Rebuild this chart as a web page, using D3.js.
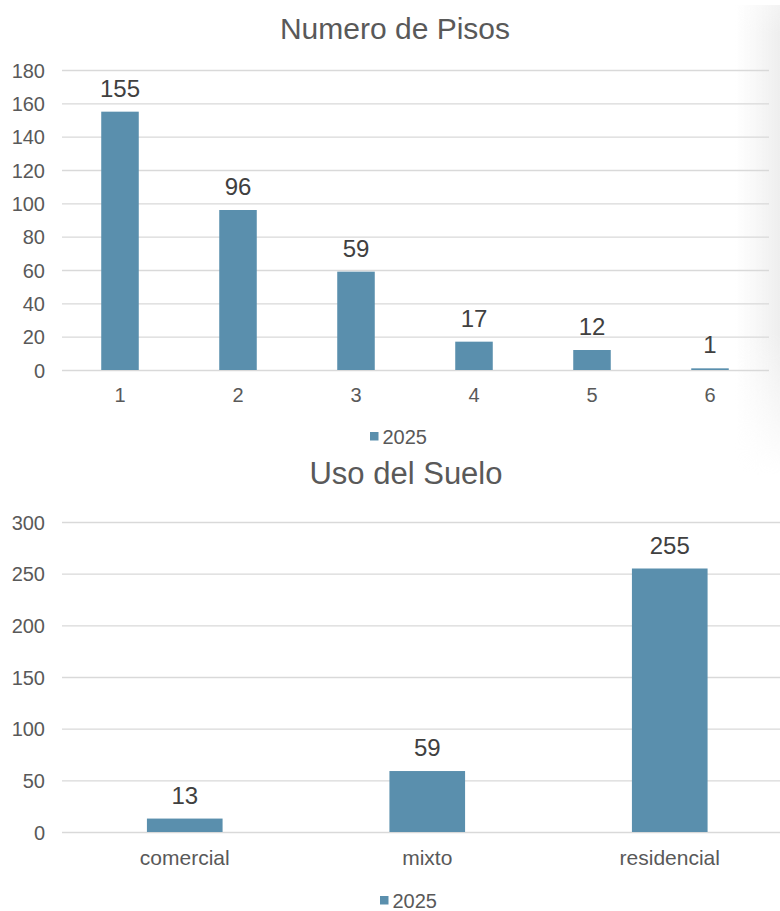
<!DOCTYPE html>
<html>
<head>
<meta charset="utf-8">
<script src="https://cdn.jsdelivr.net/npm/d3@7"></script>
<style>
  html, body { margin: 0; padding: 0; background: #fff; }
  svg text { font-family: "Liberation Sans", Arial, sans-serif; }
</style>
</head>
<body>
<svg id="chart" width="780" height="911"></svg>
<script>
// Number of floors
const floorCategories = ["1", "2", "3", "4", "5", "6"];
const floorValues = [155, 96, 59, 17, 12, 1];
const floorTicks = [0, 20, 40, 60, 80, 100, 120, 140, 160, 180];

// Land use
const useCategories = ["comercial", "mixto", "residencial"];
const useValues = [13, 59, 255];
const useTicks = [0, 50, 100, 150, 200, 250, 300];

const seriesName = "2025";
const barColor = "#5a8fad";
const gridColor = "#d9d9d9";
const axisTextColor = "#595959";
const labelColor = "#404040";

const svg = d3.select("#chart");

// soft grey shading along the right edge of the upper panel
const defs = svg.append("defs");
const grad = defs.append("linearGradient").attr("id", "edgeShade")
  .attr("x1", "0").attr("x2", "1").attr("y1", "0").attr("y2", "0");
grad.append("stop").attr("offset", "0").attr("stop-color", "#f0f0f0").attr("stop-opacity", 0);
grad.append("stop").attr("offset", "1").attr("stop-color", "#eeeeee").attr("stop-opacity", 1);
const gradV = defs.append("linearGradient").attr("id", "edgeFade")
  .attr("x1", "0").attr("x2", "0").attr("y1", "0").attr("y2", "1");
gradV.append("stop").attr("offset", "0").attr("stop-color", "#fff").attr("stop-opacity", 0.7);
gradV.append("stop").attr("offset", "0.06").attr("stop-color", "#fff").attr("stop-opacity", 1);
gradV.append("stop").attr("offset", "0.7").attr("stop-color", "#fff").attr("stop-opacity", 1);
gradV.append("stop").attr("offset", "1").attr("stop-color", "#fff").attr("stop-opacity", 0);
const mask = defs.append("mask").attr("id", "edgeMask");
mask.append("rect").attr("x", 735).attr("y", 5).attr("width", 45).attr("height", 470).attr("fill", "url(#edgeFade)");
svg.append("rect").attr("x", 735).attr("y", 5).attr("width", 45).attr("height", 470)
  .attr("fill", "url(#edgeShade)").attr("mask", "url(#edgeMask)");

function drawPanel(cfg) {
  const g = svg.append("g");
  const y = d3.scaleLinear().domain([0, cfg.max]).range([cfg.y0, cfg.y1]);
  const x = d3.scaleBand().domain(cfg.categories).range([cfg.x0, cfg.x1]).padding(0);
  const barW = x.bandwidth() * cfg.barFrac;

  // title
  g.append("text").attr("x", cfg.titleX).attr("y", cfg.titleY)
    .attr("text-anchor", "middle").attr("font-size", cfg.titleSize)
    .attr("fill", axisTextColor).text(cfg.title);

  // y axis: gridlines and labels
  const yAxis = d3.axisLeft(y).tickValues(cfg.ticks).tickSize(0).tickPadding(0);
  const ya = g.append("g").call(yAxis);
  ya.select(".domain").remove();
  ya.selectAll("text").attr("x", 45).attr("dy", "0.35em")
    .attr("font-size", 20).attr("fill", axisTextColor)
    .style("font-family", '"Liberation Sans", Arial, sans-serif');
  ya.selectAll(".tick line").attr("x1", cfg.gridX0).attr("x2", cfg.gridX1)
    .attr("stroke", gridColor).attr("stroke-width", 1.3);

  // bars
  g.selectAll("rect.bar").data(cfg.values).join("rect")
    .attr("class", "bar")
    .attr("x", (d, i) => x(cfg.categories[i]) + (x.bandwidth() - barW) / 2)
    .attr("y", d => y(d))
    .attr("width", barW)
    .attr("height", d => y(0) - y(d))
    .attr("fill", barColor);

  // value labels
  g.selectAll("text.val").data(cfg.values).join("text")
    .attr("class", "val")
    .attr("x", (d, i) => x(cfg.categories[i]) + x.bandwidth() / 2)
    .attr("y", d => y(d) - 15)
    .attr("text-anchor", "middle")
    .attr("font-size", 24).attr("fill", labelColor)
    .text(d => d);

  // category labels
  const xAxis = d3.axisBottom(x).tickSize(0).tickPadding(0);
  const xa = g.append("g").attr("transform", `translate(0,${cfg.xLabelY})`).call(xAxis);
  xa.select(".domain").remove();
  xa.selectAll("text").attr("dy", 0).attr("y", 0)
    .attr("font-size", cfg.xLabelSize).attr("fill", axisTextColor)
    .style("font-family", '"Liberation Sans", Arial, sans-serif');

  // legend
  const lg = g.append("g").attr("transform", `translate(${cfg.legendX},${cfg.legendY})`);
  lg.append("rect").attr("x", 0).attr("y", -12).attr("width", 8.5).attr("height", 8.5).attr("fill", barColor);
  lg.append("text").attr("x", 12.5).attr("y", 0).attr("font-size", 20)
    .attr("fill", axisTextColor).text(seriesName);
}

drawPanel({
  title: "Numero de Pisos", titleX: 395, titleY: 38.5, titleSize: 30,
  categories: floorCategories, values: floorValues, ticks: floorTicks, max: 180,
  y0: 370, y1: 70, x0: 61, x1: 769, gridX0: 62, gridX1: 769,
  barFrac: 0.318, xLabelY: 402, xLabelSize: 20,
  legendX: 370, legendY: 444
});

drawPanel({
  title: "Uso del Suelo", titleX: 406, titleY: 483.5, titleSize: 31,
  categories: useCategories, values: useValues, ticks: useTicks, max: 300,
  y0: 832, y1: 522, x0: 63.5, x1: 791, gridX0: 62, gridX1: 780,
  barFrac: 0.312, xLabelY: 865, xLabelSize: 21,
  legendX: 380, legendY: 908
});
</script>
</body>
</html>
